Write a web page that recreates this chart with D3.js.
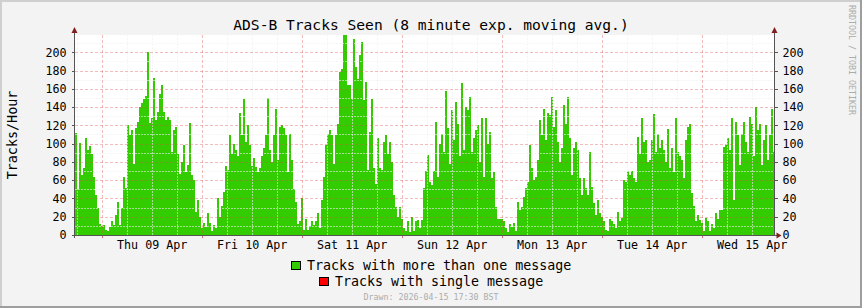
<!DOCTYPE html>
<html>
<head>
<meta charset="utf-8">
<script src="https://cdn.jsdelivr.net/npm/d3@7"></script>
<style>
  html, body { margin: 0; padding: 0; background: #f3f3f3; }
  svg { display: block; }
  text { font-family: "DejaVu Sans Mono", monospace; fill: #000; }
</style>
</head>
<body>
<svg id="chart" width="862" height="308"></svg>
<script>

// tracks/hour, one value every 28.8 minutes (2 px)
const tracksMulti = [
  112, 50, 101, 66, 73, 106, 93, 97, 89, 64,
  44, 30, 12, 10, 11, 5, 4, 9, 15, 11,
  22, 36, 11, 30, 64, 51, 120, 109, 115, 78,
  117, 124, 140, 144, 149, 152, 200, 123, 128, 172,
  126, 135, 154, 164, 135, 126, 129, 126, 91, 115,
  118, 89, 67, 80, 98, 69, 77, 123, 66, 60,
  25, 38, 20, 8, 13, 9, 24, 13, 4, 11,
  8, 40, 20, 32, 47, 75, 71, 109, 89, 100,
  93, 87, 133, 109, 149, 102, 120, 98, 75, 84,
  74, 69, 73, 86, 95, 109, 150, 93, 80, 109,
  138, 82, 118, 120, 117, 109, 69, 111, 82, 50,
  36, 12, 15, 40, 5, 17, 6, 10, 15, 11,
  15, 24, 8, 38, 63, 98, 110, 115, 109, 78,
  109, 122, 178, 182, 225, 225, 164, 164, 149, 215,
  184, 171, 197, 211, 148, 168, 71, 113, 149, 73,
  56, 106, 73, 71, 102, 109, 89, 102, 80, 44,
  31, 20, 31, 18, 8, 4, 15, 3, 20, 4,
  15, 16, 8, 16, 51, 70, 88, 58, 55, 70,
  124, 64, 100, 110, 91, 158, 117, 78, 137, 104,
  146, 122, 87, 166, 93, 140, 137, 151, 91, 106,
  115, 120, 80, 128, 64, 128, 100, 113, 62, 69,
  31, 17, 18, 17, 15, 8, 3, 12, 9, 13,
  4, 36, 27, 31, 42, 51, 58, 98, 73, 60,
  64, 82, 126, 109, 138, 104, 133, 131, 151, 118,
  137, 102, 80, 95, 142, 122, 151, 106, 66, 95,
  102, 93, 62, 44, 62, 51, 44, 91, 53, 35,
  22, 38, 24, 20, 15, 6, 4, 17, 15, 12,
  8, 25, 15, 19, 60, 58, 70, 66, 70, 62,
  58, 107, 89, 128, 102, 104, 80, 82, 104, 132,
  91, 111, 95, 104, 93, 80, 116, 73, 95, 69,
  128, 91, 86, 82, 62, 104, 118, 122, 46, 32,
  15, 22, 16, 13, 4, 19, 15, 4, 12, 8,
  24, 18, 27, 27, 96, 98, 106, 93, 128, 38,
  124, 109, 77, 111, 124, 102, 91, 129, 122, 87,
  140, 115, 122, 77, 104, 120, 82, 109, 138, 91
];

const startTime = new Date(2026, 3, 8, 17, 36);
const stepMs = 28.8 * 60 * 1000;

const dayTicks = ["2026-04-09", "2026-04-10", "2026-04-11", "2026-04-12", "2026-04-13", "2026-04-14", "2026-04-15"];
const dayLabels = ["Thu 09 Apr", "Fri 10 Apr", "Sat 11 Apr", "Sun 12 Apr", "Mon 13 Apr", "Tue 14 Apr", "Wed 15 Apr"];
const yTicks = [0, 20, 40, 60, 80, 100, 120, 140, 160, 180, 200];
const yMinor = [10, 30, 50, 70, 90, 110, 130, 150, 170, 190, 210];

const legendItems = [
  { label: "Tracks with more than one message", color: "#33cc00" },
  { label: "Tracks with single message", color: "#ff0000" }
];

const titleText = "ADS-B Tracks Seen (8 minute exp. moving avg.)";
const yTitle = "Tracks/Hour";
const drawnText = "Drawn: 2026-04-15 17:30 BST";
const sideText = "RRDTOOL / TOBI OETIKER";


const svg = d3.select("#chart"),
  width = +svg.attr("width"),
  height = +svg.attr("height");

const plot = { left: 75, right: 775, top: 35, bottom: 235 };
const parseDay = d3.timeParse("%Y-%m-%d");

const data = tracksMulti.map((v, i) => ({
  t0: new Date(+startTime + i * stepMs),
  t1: new Date(+startTime + (i + 1) * stepMs),
  v: v
}));

const x = d3.scaleTime()
  .domain([startTime, new Date(+startTime + tracksMulti.length * stepMs)])
  .range([plot.left, plot.right]);

const y = d3.scaleLinear()
  .domain([0, 218.9])
  .range([plot.bottom, plot.top]);

// background + 3d frame
svg.append("rect").attr("width", width).attr("height", height).attr("fill", "#f3f3f3");
svg.append("rect").attr("x", 0).attr("y", 0).attr("width", width).attr("height", 2).attr("fill", "#cfcfcf");
svg.append("rect").attr("x", 0).attr("y", 0).attr("width", 2).attr("height", height).attr("fill", "#cfcfcf");
svg.append("rect").attr("x", 0).attr("y", height - 2).attr("width", width).attr("height", 2).attr("fill", "#9e9e9e");
svg.append("rect").attr("x", width - 2).attr("y", 0).attr("width", 2).attr("height", height).attr("fill", "#9e9e9e");

// canvas
svg.append("rect")
  .attr("x", plot.left).attr("y", plot.top)
  .attr("width", plot.right - plot.left).attr("height", plot.bottom - plot.top)
  .attr("fill", "#ffffff");

svg.append("clipPath").attr("id", "plotclip")
  .append("rect")
  .attr("x", plot.left).attr("y", plot.top)
  .attr("width", plot.right - plot.left).attr("height", plot.bottom - plot.top);

// bars
svg.append("g")
  .attr("clip-path", "url(#plotclip)")
  .attr("shape-rendering", "crispEdges")
  .selectAll("rect")
  .data(data)
  .enter().append("rect")
  .attr("x", d => x(d.t0))
  .attr("width", d => x(d.t1) - x(d.t0))
  .attr("y", d => y(d.v))
  .attr("height", d => y(0) - y(d.v))
  .attr("fill", "#33cc00");

// grid
const grid = svg.append("g").attr("shape-rendering", "crispEdges");
const minorCol = "rgba(240,240,240,0.6)";
const majorCol = "rgba(222,79,79,0.38)";

const hours6 = d3.timeHour.every(6).range(x.domain()[0], x.domain()[1])
  .filter(d => d.getHours() !== 0);
const midnights = dayTicks.map(parseDay);

grid.selectAll(".hminor").data(yMinor).enter().append("line")
  .attr("x1", plot.left).attr("x2", plot.right)
  .attr("y1", d => Math.round(y(d)) + 0.5).attr("y2", d => Math.round(y(d)) + 0.5)
  .attr("stroke", minorCol).attr("stroke-dasharray", "2,1");

grid.selectAll(".vminor").data(hours6).enter().append("line")
  .attr("x1", d => Math.round(x(d)) + 0.5).attr("x2", d => Math.round(x(d)) + 0.5)
  .attr("y1", plot.top).attr("y2", plot.bottom)
  .attr("stroke", minorCol).attr("stroke-dasharray", "2,1");

grid.selectAll(".hmajor").data(yTicks.filter(d => d > 0)).enter().append("line")
  .attr("x1", plot.left).attr("x2", plot.right)
  .attr("y1", d => Math.round(y(d)) + 0.5).attr("y2", d => Math.round(y(d)) + 0.5)
  .attr("stroke", majorCol).attr("stroke-dasharray", "3,2");

grid.selectAll(".vmajor").data(midnights).enter().append("line")
  .attr("x1", d => Math.round(x(d)) + 0.5).attr("x2", d => Math.round(x(d)) + 0.5)
  .attr("y1", plot.top).attr("y2", plot.bottom)
  .attr("stroke", majorCol).attr("stroke-dasharray", "3,2");

// midnight ticks under the axis
grid.selectAll(".vtick").data(midnights).enter().append("line")
  .attr("x1", d => Math.round(x(d)) + 0.5).attr("x2", d => Math.round(x(d)) + 0.5)
  .attr("y1", plot.bottom).attr("y2", plot.bottom + 3)
  .attr("stroke", "rgba(200,60,60,0.7)");

// y axes
const axisCol = "#555";
const yLeft = svg.append("g")
  .attr("transform", "translate(" + (plot.left - 0.5) + ",0)")
  .call(d3.axisLeft(y).tickValues(yTicks).tickSize(3).tickPadding(5))
  .call(g => g.select(".domain").remove());
const yRight = svg.append("g")
  .attr("transform", "translate(" + (plot.right - 0.5) + ",0)")
  .call(d3.axisRight(y).tickValues(yTicks).tickSize(3).tickPadding(5))
  .call(g => g.select(".domain").remove());

[yLeft, yRight].forEach(g => {
  g.selectAll(".tick line").attr("stroke", axisCol).attr("shape-rendering", "crispEdges");
  g.selectAll("text")
    .style("font-family", "DejaVu Sans Mono, monospace")
    .style("font-size", "11.7px")
    .attr("fill", "#000");
});

// x axis labels at noon
const xAxis = svg.append("g")
  .attr("transform", "translate(0," + plot.bottom + ")")
  .call(d3.axisBottom(x)
    .tickValues(midnights.map(d => d3.timeHour.offset(d, 12)))
    .tickFormat((d, i) => dayLabels[i])
    .tickSize(0).tickPadding(6))
  .call(g => g.select(".domain").remove());
xAxis.selectAll("text")
  .style("font-family", "DejaVu Sans Mono, monospace")
  .style("font-size", "11.7px")
  .attr("fill", "#000");

// axis lines and arrows
const axes = svg.append("g").attr("shape-rendering", "crispEdges");
axes.append("line")
  .attr("x1", plot.left - 0.5).attr("x2", plot.left - 0.5)
  .attr("y1", plot.bottom + 3).attr("y2", plot.top - 6)
  .attr("stroke", axisCol);
axes.append("line")
  .attr("x1", plot.right - 0.5).attr("x2", plot.right - 0.5)
  .attr("y1", plot.bottom).attr("y2", plot.top - 6)
  .attr("stroke", axisCol);
axes.append("line")
  .attr("x1", plot.left - 3).attr("x2", plot.right + 2)
  .attr("y1", plot.bottom + 0.5).attr("y2", plot.bottom + 0.5)
  .attr("stroke", axisCol);

const arrowCol = "#801f1f";
[plot.left - 0.5, plot.right - 0.5].forEach(ax => {
  svg.append("path")
    .attr("d", "M" + (ax - 3) + "," + (plot.top - 2) + "L" + (ax + 3) + "," + (plot.top - 2) + "L" + ax + "," + (plot.top - 8) + "Z")
    .attr("fill", arrowCol);
});
svg.append("path")
  .attr("d", "M" + (plot.right + 1.5) + "," + (plot.bottom - 2.5) + "L" + (plot.right + 1.5) + "," + (plot.bottom + 3.5) + "L" + (plot.right + 6.5) + "," + (plot.bottom + 0.5) + "Z")
  .attr("fill", arrowCol);

// titles
svg.append("text")
  .attr("x", 431).attr("y", 29.5)
  .attr("text-anchor", "middle")
  .style("font-size", "14.6px")
  .text(titleText);

svg.append("text")
  .attr("transform", "translate(16.5," + ((plot.top + plot.bottom) / 2) + ") rotate(-90)")
  .attr("text-anchor", "middle")
  .style("font-size", "13.4px")
  .text(yTitle);

svg.append("text")
  .attr("transform", "translate(849,5) rotate(90)")
  .attr("text-anchor", "start")
  .style("font-size", "8.3px")
  .style("fill", "#acacac")
  .text(sideText);

// legend
const legend = svg.append("g");
legendItems.forEach((item, i) => {
  const row = legend.append("g");
  const label = row.append("text")
    .attr("x", 16).attr("y", 0)
    .style("font-size", "13.3px")
    .text(item.label);
  const w = 16 + label.node().getComputedTextLength();
  row.append("rect")
    .attr("x", 0.5).attr("y", -8.5)
    .attr("width", 9).attr("height", 8)
    .attr("fill", item.color)
    .attr("stroke", "#000")
    .attr("shape-rendering", "crispEdges");
  row.attr("transform", "translate(" + Math.round(431 - w / 2) + "," + (270 + i * 16) + ")");
});

svg.append("text")
  .attr("x", 431).attr("y", 300)
  .attr("text-anchor", "middle")
  .style("font-size", "8.3px")
  .style("fill", "#acacac")
  .text(drawnText);

</script>
</body>
</html>
